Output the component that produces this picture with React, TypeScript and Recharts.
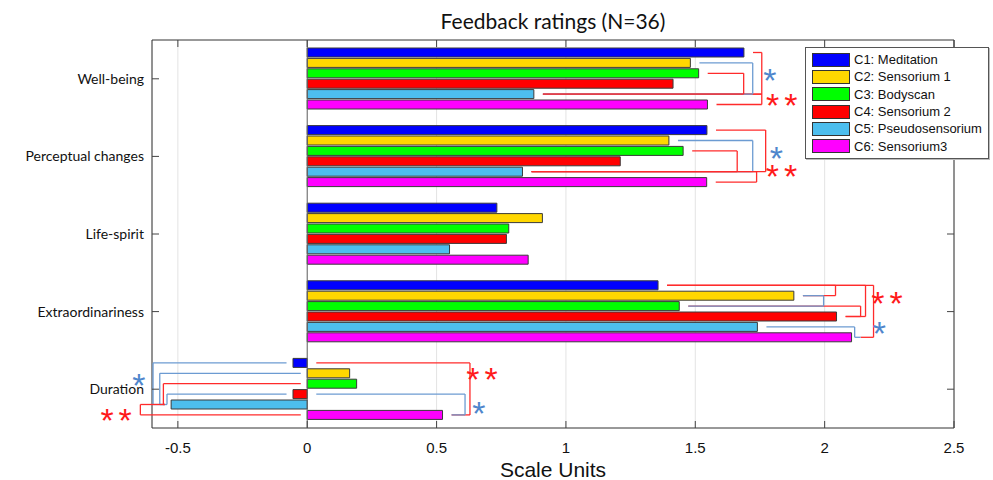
import React from 'react';
import {
  ComposedChart,
  Bar,
  XAxis,
  YAxis,
  CartesianGrid,
  ReferenceLine,
  ReferenceArea,
  ReferenceDot,
  Legend,
  Label,
} from 'recharts';

const categories = ['Well-being', 'Perceptual changes', 'Life-spirit', 'Extraordinariness', 'Duration'];
const conditionNames = [
  'C1: Meditation',
  'C2: Sensorium 1',
  'C3: Bodyscan',
  'C4: Sensorium 2',
  'C5: Pseudosensorium',
  'C6: Sensorium3',
];
const conditionColors = ['#0000ff', '#ffd700', '#00ff00', '#ff0000', '#4dbeee', '#ff00ff'];

// mean ratings per category, one array per condition
const c1Meditation = [1.688, 1.545, 0.733, 1.356, -0.055];
const c2Sensorium1 = [1.481, 1.398, 0.909, 1.881, 0.164];
const c3Bodyscan = [1.513, 1.453, 0.779, 1.438, 0.191];
const c4Sensorium2 = [1.414, 1.21, 0.77, 2.046, -0.055];
const c5Pseudo = [0.876, 0.832, 0.55, 1.74, -0.526];
const c6Sensorium3 = [1.547, 1.544, 0.854, 2.104, 0.523];

const xTicks = [-0.5, 0, 0.5, 1, 1.5, 2, 2.5];
const xDomain: [number, number] = [-0.6, 2.5];

// significance brackets: category, compared conditions (0-based), x of the vertical stroke
const brackets = [
  { cat: 0, a: 0, b: 4, at: 1.757, sig: 'red' },
  { cat: 0, a: 5, b: 4, at: 1.757, sig: 'red' },
  { cat: 0, a: 1, b: 4, at: 1.722, sig: 'blue' },
  { cat: 0, a: 2, b: 4, at: 1.687, sig: 'red' },
  { cat: 1, a: 0, b: 4, at: 1.772, sig: 'red' },
  { cat: 1, a: 1, b: 4, at: 1.722, sig: 'blue' },
  { cat: 1, a: 2, b: 4, at: 1.662, sig: 'red' },
  { cat: 1, a: 5, b: 4, at: 1.737, sig: 'red' },
  { cat: 3, a: 0, b: 1, at: 2.042, sig: 'red' },
  { cat: 3, a: 0, b: 3, at: 2.158, sig: 'red' },
  { cat: 3, a: 0, b: 5, at: 2.189, sig: 'red' },
  { cat: 3, a: 2, b: 3, at: 2.139, sig: 'red' },
  { cat: 3, a: 1, b: 2, at: 1.996, sig: 'blue' },
  { cat: 3, a: 4, b: 5, at: 2.116, sig: 'blue' },
  { cat: 4, a: 0, b: 4, at: -0.596, sig: 'blue' },
  { cat: 4, a: 1, b: 4, at: -0.57, sig: 'blue' },
  { cat: 4, a: 2, b: 4, at: -0.556, sig: 'red' },
  { cat: 4, a: 3, b: 4, at: -0.542, sig: 'blue' },
  { cat: 4, a: 5, b: 4, at: -0.645, sig: 'red' },
  { cat: 4, a: 0, b: 5, at: 0.629, sig: 'red' },
  { cat: 4, a: 3, b: 5, at: 0.61, sig: 'blue' },
];

// asterisk labels: category, fractional bar slot, x position, marker
const stars = [
  { cat: 0, slot: 2.16, x: 1.788, sig: 'blue' },
  { cat: 0, slot: 4.57, x: 1.844, sig: 'red' },
  { cat: 1, slot: 2.2, x: 1.813, sig: 'blue' },
  { cat: 1, slot: 3.93, x: 1.843, sig: 'red' },
  { cat: 3, slot: 1.22, x: 2.251, sig: 'red' },
  { cat: 3, slot: 4.1, x: 2.212, sig: 'blue' },
  { cat: 4, slot: 1.64, x: -0.651, sig: 'blue' },
  { cat: 4, slot: 5.0, x: -0.729, sig: 'red' },
  { cat: 4, slot: 1.07, x: 0.685, sig: 'red' },
  { cat: 4, slot: 4.34, x: 0.663, sig: 'blue' },
];

const seriesValues = [c1Meditation, c2Sensorium1, c3Bodyscan, c4Sensorium2, c5Pseudo, c6Sensorium3];
const seriesKeys = ['c1', 'c2', 'c3', 'c4', 'c5', 'c6'];

// rows for the chart; "row" is the category index, read by the hidden numeric axis
const data = categories.map((name, k) => {
  const row: Record<string, string | number> = { name, row: k };
  seriesKeys.forEach((key, i) => {
    row[key] = seriesValues[i][k];
  });
  return row;
});

const CHART_W = 993;
const CHART_H = 480;
const MARGIN = { top: 40, right: 39, left: 12, bottom: 0 };
const Y_AXIS_W = 140;
const X_AXIS_H = 52;
const PLOT_W = CHART_W - MARGIN.left - MARGIN.right - Y_AXIS_W;
const PLOT_H = CHART_H - MARGIN.top - X_AXIS_H;
const BAND = PLOT_H / categories.length;
const BAR_SIZE = 9;
const BAR_GAP = 1.4;
const GROUP_OFFSET = Math.floor((BAND - (6 * BAR_SIZE + 5 * BAR_GAP)) / 2);
const X_PER_PX = (xDomain[1] - xDomain[0]) / PLOT_W;
const Y_PER_PX = 1 / BAND;

// centre of a bar slot, in category units on the hidden numeric axis
const slotY = (cat: number, slot: number) =>
  cat + (GROUP_OFFSET + BAR_SIZE / 2 + slot * (BAR_SIZE + BAR_GAP)) / BAND;

const SIG_LINE = { red: '#ff2b2b', blue: '#6c9bd2' };
const SIG_TEXT = { red: '#ff1a1a', blue: '#4f86cc' };
const PAD_RIGHT = 0.035;
const PAD_LEFT = 0.025;

const bracketSegments = brackets.flatMap((b, idx) => {
  const left = b.at < 0;
  const startOf = (s: number) => {
    const v = seriesValues[s][b.cat];
    return left ? Math.min(v, 0) - PAD_LEFT : Math.max(v, 0) + PAD_RIGHT;
  };
  const ya = slotY(b.cat, b.a);
  const yb = slotY(b.cat, b.b);
  const color = SIG_LINE[b.sig as 'red' | 'blue'];
  return [
    { key: `${idx}-a`, color, seg: [{ x: startOf(b.a), y: ya }, { x: b.at, y: ya }] },
    { key: `${idx}-v`, color, seg: [{ x: b.at, y: ya }, { x: b.at, y: yb }] },
    { key: `${idx}-b`, color, seg: [{ x: startOf(b.b), y: yb }, { x: b.at, y: yb }] },
  ];
});

const renderLegend = () => (
  <div
    style={{
      border: '1px solid #555',
      background: '#fff',
      padding: '3px 6px 3px 6px',
      fontFamily: '"Liberation Sans", Arial, sans-serif',
      fontSize: 13,
      color: '#111',
      boxShadow: '1px 1px 0 #bbb',
    }}
  >
    {conditionNames.map((n, i) => (
      <div key={n} style={{ display: 'flex', alignItems: 'center', height: 17.3 }}>
        <span
          style={{
            display: 'inline-block',
            width: 36,
            height: 12,
            background: conditionColors[i],
            border: '1px solid #333',
            marginRight: 4,
          }}
        />
        <span style={{ whiteSpace: 'nowrap' }}>{n}</span>
      </div>
    ))}
  </div>
);

const Star = (props: { cx?: number; cy?: number; sig: string }) => {
  const { cx = 0, cy = 0, sig } = props;
  const fs = 34;
  return (
    <text
      x={cx}
      y={cy + fs * 0.49}
      textAnchor="middle"
      fill={SIG_TEXT[sig as 'red' | 'blue']}
      fontSize={fs}
      fontFamily='"Liberation Sans", Arial, sans-serif'
      letterSpacing={sig === 'red' ? 5 : 0}
    >
      {sig === 'red' ? '**' : '*'}
    </text>
  );
};

export default function App() {
  return (
    <div style={{ position: 'absolute', left: 0, top: 0, width: CHART_W, height: CHART_H, background: '#fff' }}>
      <div
        style={{
          position: 'absolute',
          left: MARGIN.left + Y_AXIS_W,
          width: PLOT_W,
          top: 9,
          textAlign: 'center',
          fontFamily: 'Lato, "Open Sans", sans-serif',
          fontSize: 21,
          lineHeight: '24px',
          color: '#111',
        }}
      >
        Feedback ratings (N=36)
      </div>
      <ComposedChart
        width={CHART_W}
        height={CHART_H}
        data={data}
        layout="vertical"
        margin={MARGIN}
        barSize={BAR_SIZE}
        barGap={BAR_GAP}
      >
        <CartesianGrid vertical horizontal={false} stroke="#e3e3e3" yAxisId="cat" />
        <XAxis
          type="number"
          domain={xDomain}
          ticks={xTicks}
          allowDataOverflow
          height={X_AXIS_H}
          axisLine={false}
          tickLine={false}
          tickMargin={8}
          tick={{ fill: '#111', fontSize: 15, fontFamily: '"Liberation Sans Narrow", "Liberation Sans", Arial' }}
        >
          <Label
            value="Scale Units"
            position="insideBottom"
            offset={3}
            fill="#111"
            fontSize={21}
            fontFamily='"Liberation Sans Narrow", "Liberation Sans", Arial'
          />
        </XAxis>
        <YAxis
          yAxisId="cat"
          type="category"
          dataKey="name"
          width={Y_AXIS_W}
          axisLine={false}
          tickLine={false}
          tick={{ fill: '#111', fontSize: 14, fontFamily: 'Lato, "Open Sans", sans-serif' }}
        />
        <YAxis
          yAxisId="num"
          type="number"
          dataKey="row"
          scale="linear"
          domain={[0, categories.length]}
          allowDataOverflow
          hide
        />
        <ReferenceLine x={0} yAxisId="num" stroke="#666" strokeWidth={1} />
        {seriesKeys.map((key, i) => (
          <Bar
            key={key}
            dataKey={key}
            name={conditionNames[i]}
            yAxisId="cat"
            fill={conditionColors[i]}
            stroke="#3a3a3a"
            strokeWidth={1}
            isAnimationActive={false}
          />
        ))}
        {bracketSegments.map((s) => (
          <ReferenceLine
            key={s.key}
            yAxisId="num"
            segment={s.seg}
            stroke={s.color}
            strokeWidth={1.3}
            ifOverflow="visible"
          />
        ))}
        {stars.map((s, i) => (
          <ReferenceDot
            key={`star-${i}`}
            yAxisId="num"
            x={s.x}
            y={slotY(s.cat, s.slot)}
            r={0}
            ifOverflow="visible"
            shape={(p: { cx?: number; cy?: number }) => <Star cx={p.cx} cy={p.cy} sig={s.sig} />}
          />
        ))}
        {/* inward tick marks on all four sides */}
        {xTicks.map((t) => (
          <ReferenceLine
            key={`tt-${t}`}
            yAxisId="num"
            segment={[{ x: t, y: 0 }, { x: t, y: 7 * Y_PER_PX }]}
            stroke="#444"
          />
        ))}
        {xTicks.map((t) => (
          <ReferenceLine
            key={`tb-${t}`}
            yAxisId="num"
            segment={[{ x: t, y: categories.length }, { x: t, y: categories.length - 7 * Y_PER_PX }]}
            stroke="#444"
          />
        ))}
        {categories.map((c, k) => (
          <ReferenceLine
            key={`tl-${c}`}
            yAxisId="num"
            segment={[{ x: xDomain[0], y: k + 0.5 }, { x: xDomain[0] + 7 * X_PER_PX, y: k + 0.5 }]}
            stroke="#444"
          />
        ))}
        {categories.map((c, k) => (
          <ReferenceLine
            key={`tr-${c}`}
            yAxisId="num"
            segment={[{ x: xDomain[1], y: k + 0.5 }, { x: xDomain[1] - 7 * X_PER_PX, y: k + 0.5 }]}
            stroke="#444"
          />
        ))}
        <ReferenceArea
          yAxisId="num"
          x1={xDomain[0]}
          x2={xDomain[1]}
          y1={0}
          y2={categories.length}
          fill="none"
          fillOpacity={0}
          stroke="#333"
          strokeWidth={1}
          ifOverflow="visible"
        />
        <Legend
          layout="horizontal"
          verticalAlign="middle"
          align="center"
          content={renderLegend}
          wrapperStyle={{ left: 805, top: 47, width: 'auto', height: 'auto' }}
        />
      </ComposedChart>
    </div>
  );
}
